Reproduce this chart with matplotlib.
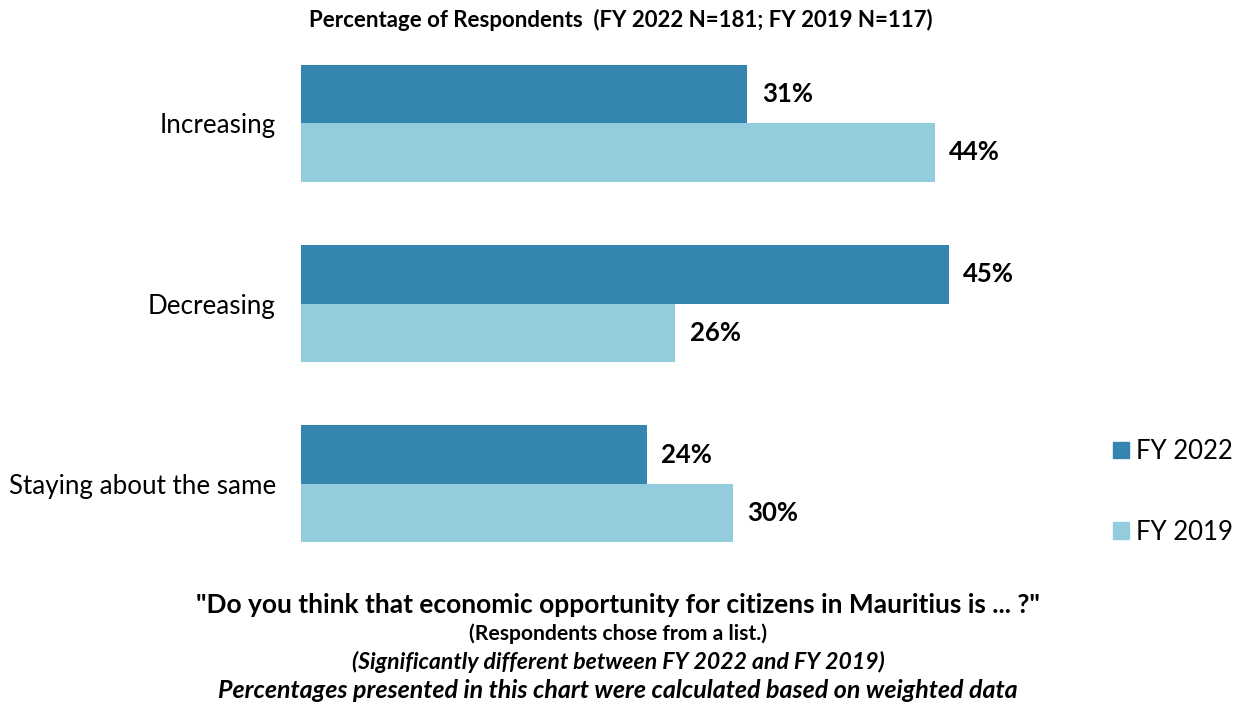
import matplotlib
matplotlib.use("Agg")
import matplotlib.pyplot as plt
import numpy as np
from matplotlib.patches import Patch

plt.rcParams["font.family"] = ["Lato", "DejaVu Sans"]

categories = ["Increasing", "Decreasing", "Staying about the same"]
fy2022 = [31, 45, 24]
fy2019 = [44, 26, 30]
series_names = ["FY 2022", "FY 2019"]
colors = ["#3486b0", "#93cddd"]

title = "Percentage of Respondents  (FY 2022 N=181; FY 2019 N=117)"
notes = [
    ('"Do you think that economic opportunity for citizens in Mauritius is ... ?"', "normal", 19),
    ("(Respondents chose from a list.)", "normal", 15.2),
    ("(Significantly different between FY 2022 and FY 2019)", "italic", 16.6),
    ("Percentages presented in this chart were calculated based on weighted data", "italic", 18),
]

W, H = 1245, 707
fig = plt.figure(figsize=(W / 100, H / 100), dpi=100)
# axes placed in pixel terms: x 301..1001, y 33..574 (from top)
ax = fig.add_axes([301 / W, 1 - 574 / H, 700 / W, 541 / H])

y = np.arange(len(categories))
bh = 0.325
b1 = ax.barh(y - bh / 2, fy2022, height=bh, color=colors[0], label=series_names[0])
b2 = ax.barh(y + bh / 2, fy2019, height=bh, color=colors[1], label=series_names[1])

for bars, vals in ((b1, fy2022), (b2, fy2019)):
    for bar, v in zip(bars, vals):
        ax.text(bar.get_width() + 1.0, bar.get_y() + bar.get_height() / 2, f"{v}%",
                va="center", ha="left", fontsize=18.5, fontweight="bold", color="black")

ax.set_xlim(0, 700 / 14.4)
ax.set_ylim(2.5, -0.5)
ax.set_yticks(y)
ax.set_yticklabels(categories, fontsize=18.7)
ax.tick_params(axis="y", length=0, pad=18)
ax.set_xticks([])
for s in ax.spines.values():
    s.set_visible(False)

handles = [Patch(color=c, label=n) for c, n in zip(colors, series_names)]
fig.legend(handles=handles, loc="center left", bbox_to_anchor=(1090 / W, 1 - 492 / H),
           frameon=False, fontsize=18.5, handlelength=0.6, handleheight=0.6,
           handletextpad=0.3, labelspacing=2.15)

fig.text(621 / W, 1 - 20 / H, title, ha="center", va="center", fontsize=16, fontweight="bold")

ys = [605, 634, 662, 691]
for (txt, style, size), yy in zip(notes, ys):
    fig.text(618 / W, 1 - yy / H, txt, ha="center", va="center", fontsize=size,
             fontweight="bold", fontstyle=style)

fig.savefig("out.png", dpi=100)
